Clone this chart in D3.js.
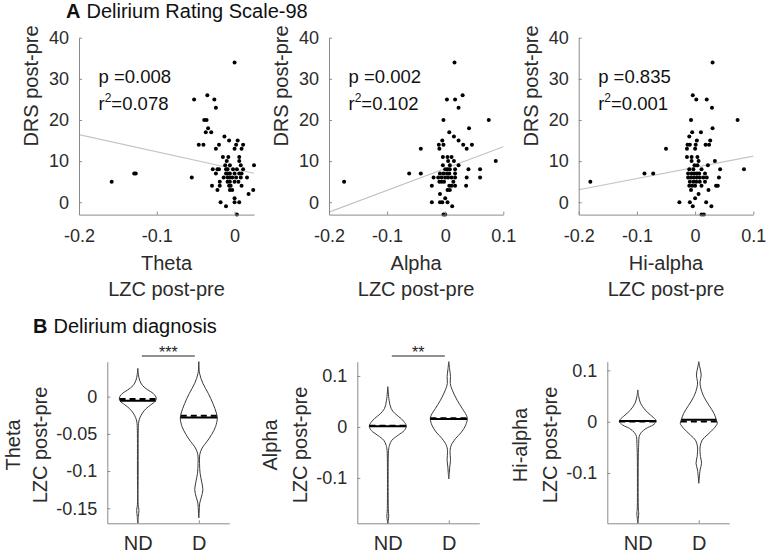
<!DOCTYPE html>
<html><head><meta charset="utf-8">
<script src="https://cdn.jsdelivr.net/npm/d3@7"></script>
<style>html,body{margin:0;padding:0;background:#fff;}</style>
</head><body>
<script>
// ---------------- DATA ----------------
const bands = ["Theta", "Alpha", "Hi-alpha"];
const groups = ["ND", "D"];
const scatterYTicks = [0, 10, 20, 30, 40];
const thetaXTicks = [-0.2, -0.1, 0];
const alphaXTicks = [-0.2, -0.1, 0, 0.1];
const hiXTicks = [-0.2, -0.1, 0, 0.1];
const pValues = ["0.008", "0.002", "0.835"];
const r2Values = ["0.078", "0.102", "0.001"];
const fitSlopes = [-41.6, 53.0, 27.3];
const fitIntercepts = [8.1, 8.2, 8.5];

const thetaPts = [[0.000,34],[-0.052,25],[-0.035,26],[-0.026,25],[-0.024,23],[-0.039,20],[-0.036,20],[-0.034,18],[-0.037,17],[-0.030,17],[-0.013,16],[-0.007,15],[0.004,15],[-0.046,14],[-0.040,14],[-0.024,13],[-0.020,14],[0.000,13],[0.002,14],[0.011,14],[0.009,13],[-0.015,11],[-0.008,11],[0.006,11],[-0.010,10],[0.006,10],[-0.012,9],[-0.006,9],[0.008,9],[-0.028,8],[-0.022,8],[-0.020,8],[-0.011,8],[-0.009,8],[-0.002,8],[0.003,8],[0.011,8],[0.025,9],[-0.024,7],[-0.011,7],[-0.009,7],[-0.006,7],[0.000,7],[0.006,7],[0.009,7],[-0.014,6],[-0.009,6],[-0.006,6],[-0.003,6],[0.002,6],[0.008,6],[0.016,6],[-0.055,6],[-0.019,5],[-0.009,5],[-0.006,5],[0.000,5],[0.005,5],[-0.007,4],[-0.005,4],[0.009,4],[-0.029,4],[-0.022,3],[-0.019,4],[-0.006,3],[-0.003,3],[0.024,3],[0.018,2],[0.000,1],[-0.018,0],[0.000,0],[0.006,0],[-0.011,-1],[0.003,-3],[-0.158,5],[-0.129,7],[-0.127,7]];

const alphaPts = [[0.016,34],[0.003,25],[0.017,25],[0.030,26],[0.023,23],[-0.003,20],[0.075,20],[0.007,17],[0.041,18],[0.015,16],[0.023,15],[0.031,14],[0.046,14],[0.037,13],[-0.005,15],[-0.011,14],[-0.003,14],[-0.010,13],[-0.042,13],[-0.004,11],[0.004,11],[0.011,11],[0.005,10],[0.015,10],[-0.004,9],[0.008,9],[0.023,9],[0.087,10],[0.000,8],[0.004,8],[0.008,8],[0.017,8],[0.040,8],[0.060,8],[-0.062,7],[-0.042,7],[-0.009,7],[-0.003,7],[0.003,7],[0.007,7],[0.017,7],[-0.020,6],[-0.012,6],[-0.006,6],[0.000,6],[0.005,6],[0.011,6],[0.017,6],[0.037,6],[0.060,6],[-0.010,5],[-0.006,5],[-0.002,5],[0.014,5],[0.007,4],[0.011,4],[0.017,4],[-0.023,4],[0.036,4],[0.004,3],[0.008,3],[-0.009,2],[0.000,1],[-0.023,0],[-0.009,0],[-0.005,0],[0.004,0],[0.012,-1],[0.000,-3],[-0.003,-3],[-0.174,5]];

const hiPts = [[0.030,34],[-0.004,26],[0.002,25],[0.020,25],[0.029,23],[-0.007,20],[0.073,20],[0.030,18],[-0.005,17],[0.010,17],[-0.010,16],[0.003,15],[0.026,15],[-0.013,14],[-0.009,14],[0.001,14],[0.018,14],[0.024,14],[-0.050,13],[-0.014,13],[0.000,13],[-0.014,11],[-0.006,11],[0.004,11],[-0.006,10],[0.006,10],[0.034,10],[-0.001,9],[0.004,9],[0.022,9],[-0.010,8],[-0.003,8],[0.011,8],[0.043,8],[0.084,8],[-0.087,7],[-0.072,7],[-0.012,7],[-0.006,7],[-0.001,7],[0.003,7],[0.007,7],[0.017,7],[-0.012,6],[-0.007,6],[-0.002,6],[0.003,6],[0.008,6],[0.014,6],[0.020,6],[0.041,6],[-0.009,5],[-0.003,5],[0.002,5],[0.008,5],[0.017,5],[-0.010,4],[-0.005,4],[0.000,4],[0.011,4],[0.036,4],[0.039,4],[-0.007,3],[0.023,3],[0.006,2],[0.000,1],[-0.027,0],[-0.009,0],[0.019,0],[-0.004,-1],[0.028,-1],[0.011,-3],[0.015,-3],[-0.180,5]];

// violin profiles: [value, relative density]
const thetaND = [[0.038,0],[0.030,0.03],[0.022,0.10],[0.015,0.25],[0.009,0.55],[0.004,0.85],[-0.002,1.0],[-0.006,0.95],[-0.011,0.7],[-0.016,0.45],[-0.022,0.25],[-0.028,0.12],[-0.034,0.05],[-0.045,0.025],[-0.10,0.02],[-0.145,0.02],[-0.153,0.06],[-0.161,0.03],[-0.170,0.01]];
const thetaD = [[0.047,0],[0.0315,0.04],[0.018,0.22],[0.0045,0.51],[-0.009,0.76],[-0.022,0.95],[-0.029,1.0],[-0.040,0.91],[-0.051,0.69],[-0.060,0.45],[-0.069,0.18],[-0.078,0.05],[-0.090,0.04],[-0.103,0.07],[-0.115,0.16],[-0.125,0.22],[-0.135,0.14],[-0.143,0.05],[-0.155,0.02],[-0.163,0]];
const alphaND = [[0.079,0],[0.0525,0.07],[0.036,0.18],[0.026,0.4],[0.016,0.73],[0.0066,0.95],[0.0013,1.0],[-0.0066,0.9],[-0.0164,0.55],[-0.026,0.22],[-0.036,0.09],[-0.046,0.04],[-0.08,0.02],[-0.14,0.02],[-0.165,0.03],[-0.175,0.05],[-0.185,0.02],[-0.19,0]];
const alphaD = [[0.128,0],[0.112,0.05],[0.099,0.09],[0.085,0.08],[0.073,0.18],[0.0525,0.45],[0.036,0.73],[0.023,0.95],[0.0164,1.0],[0.0033,0.91],[-0.0098,0.69],[-0.023,0.36],[-0.036,0.13],[-0.046,0.07],[-0.066,0.09],[-0.079,0.05],[-0.09,0.03],[-0.102,0]];
const hiND = [[0.062,0],[0.049,0.05],[0.036,0.15],[0.0228,0.4],[0.013,0.69],[0.0045,0.95],[0.0006,1.0],[-0.0065,0.82],[-0.013,0.45],[-0.0214,0.18],[-0.029,0.07],[-0.042,0.05],[-0.06,0.03],[-0.1,0.02],[-0.17,0.03],[-0.178,0.05],[-0.188,0.03],[-0.198,0]];
const hiD = [[0.117,0],[0.107,0.05],[0.091,0.13],[0.078,0.07],[0.068,0.09],[0.049,0.27],[0.032,0.55],[0.0163,0.82],[0.0032,0.95],[-0.0032,1.0],[-0.013,0.82],[-0.026,0.45],[-0.036,0.18],[-0.049,0.07],[-0.068,0.09],[-0.081,0.15],[-0.094,0.07],[-0.12,0]];

// mean (solid) and median (dashed) per band, [ND, D]
const violinMeans = [[-0.0054,-0.028],[0.0013,0.0158],[0.0013,0.0038]];
const violinMedians = [[-0.003,-0.0255],[0.0026,0.0171],[0.0006,0.0006]];
const sigLabels = ["***", "**", ""];
const thetaYTicks = [-0.15, -0.1, -0.05, 0];
const alphaYTicks = [-0.1, 0, 0.1];
const hiYTicks = [-0.1, 0, 0.1];

// ---------------- LAYOUT ----------------
const W = 767, H = 554;
const FONT = "'Liberation Sans', Arial, Helvetica, sans-serif";
const AX = "#8a8a8a", TXT = "#2b2b2b";
const svg = d3.select("body").append("svg").attr("width", W).attr("height", H)
  .style("font-family", FONT);
svg.append("rect").attr("width", W).attr("height", H).attr("fill", "#fff");

const fmt = d => String(d);

function styleAxis(g) {
  g.select(".domain").attr("stroke", AX).attr("stroke-width", 1);
  g.selectAll(".tick line").attr("stroke", AX);
  g.selectAll(".tick text").attr("fill", TXT).style("font-size", "18px").style("font-family", FONT);
}

// ---- Panel A ----
const topPanels = [
  {x0: 79, x1: 254, xd: [-0.2, 0.025], xt: thetaXTicks, pts: thetaPts},
  {x0: 329, x1: 503.3, xd: [-0.2, 0.1], xt: alphaXTicks, pts: alphaPts},
  {x0: 578.7, x1: 753.3, xd: [-0.2, 0.1], xt: hiXTicks, pts: hiPts}
];
const yA = d3.scaleLinear().domain([-3, 40]).range([214.6, 37.7]);

topPanels.forEach((p, i) => {
  const x = d3.scaleLinear().domain(p.xd).range([p.x0, p.x1]);
  const g = svg.append("g");
  // fit line
  const fx = p.xd;
  g.append("line")
    .attr("x1", x(fx[0])).attr("y1", yA(fitIntercepts[i] + fitSlopes[i] * fx[0]))
    .attr("x2", x(fx[1])).attr("y2", yA(fitIntercepts[i] + fitSlopes[i] * fx[1]))
    .attr("stroke", "#c4c4c4").attr("stroke-width", 1.2);
  g.selectAll("circle").data(p.pts).join("circle")
    .attr("cx", d => x(d[0])).attr("cy", d => yA(d[1])).attr("r", 2)
    .attr("fill", "#000");
  const gx = g.append("g").attr("transform", `translate(0,${yA.range()[0]})`)
    .call(d3.axisBottom(x).tickValues(p.xt).tickFormat(fmt).tickSizeInner(-3).tickSizeOuter(0).tickPadding(15));
  styleAxis(gx);
  const gy = g.append("g").attr("transform", `translate(${p.x0},0)`)
    .call(d3.axisLeft(yA).tickValues(scatterYTicks).tickFormat(fmt).tickSizeInner(-3).tickSizeOuter(0).tickPadding(10));
  styleAxis(gy);
  const cx = (p.x0 + p.x1) / 2;
  g.append("text").attr("x", cx).attr("y", 269.5).attr("text-anchor", "middle")
    .attr("fill", TXT).style("font-size", "20px").text(bands[i]);
  g.append("text").attr("x", cx).attr("y", 296).attr("text-anchor", "middle")
    .attr("fill", TXT).style("font-size", "20px").text("LZC post-pre");
  g.append("text").attr("transform", `translate(${p.x0 - 41},86) rotate(-90)`)
    .attr("text-anchor", "middle").attr("fill", TXT).style("font-size", "20px").text("DRS post-pre");
  g.append("text").attr("x", p.x0 + 19.5).attr("y", 83.3).attr("fill", "#111")
    .style("font-size", "18.5px").text("p =" + pValues[i]);
  const t = g.append("text").attr("x", p.x0 + 19.5).attr("y", 110).attr("fill", "#111").style("font-size", "18.5px");
  t.append("tspan").text("r");
  t.append("tspan").attr("dy", -8).style("font-size", "12px").text("2");
  t.append("tspan").attr("dy", 8).text("=" + r2Values[i]);
});

// Titles
const tA = svg.append("text").attr("x", 66).attr("y", 18.3).attr("fill", "#111").style("font-size", "20px");
tA.append("tspan").style("font-weight", "bold").text("A");
tA.append("tspan").attr("dx", 6).text("Delirium Rating Scale-98");
const tB = svg.append("text").attr("x", 33).attr("y", 333.3).attr("fill", "#111").style("font-size", "20px");
tB.append("tspan").style("font-weight", "bold").text("B");
tB.append("tspan").attr("dx", 6).text("Delirium diagnosis");

// ---- Panel B ----
const botPanels = [
  {x0: 107.3, yd: [-0.1702, 0.047], yt: thetaYTicks, prof: [thetaND, thetaD], lab1: -87, lab2: -60.6},
  {x0: 357.3, yd: [-0.189, 0.128], yt: alphaYTicks, prof: [alphaND, alphaD], lab1: -80, lab2: -50.6},
  {x0: 607.3, yd: [-0.198, 0.117], yt: hiYTicks, prof: [hiND, hiD], lab1: -80, lab2: -50.6}
];
const wScale = d3.scaleLinear().domain([0, 1]).range([0, 18.5]);

function densAt(prof, v) {
  for (let k = 0; k < prof.length - 1; k++) {
    const a = prof[k], b = prof[k + 1];
    if ((v <= a[0] && v >= b[0])) {
      const t = (a[0] - v) / (a[0] - b[0]);
      return a[1] + t * (b[1] - a[1]);
    }
  }
  return 0;
}

botPanels.forEach((p, i) => {
  const x = d3.scaleLinear().domain([0.5, 2.5]).range([p.x0, p.x0 + 122]);
  const y = d3.scaleLinear().domain(p.yd).range([523.3, 361.7]);
  const g = svg.append("g");
  p.prof.forEach((prof, j) => {
    const cx = x(j + 1);
    const area = d3.area()
      .y(d => y(d[0]))
      .x0(d => cx - wScale(d[1]))
      .x1(d => cx + wScale(d[1]))
      .curve(d3.curveCatmullRom.alpha(0.5));
    g.append("path").datum(prof).attr("d", area)
      .attr("fill", "none").attr("stroke", "#3a3a3a").attr("stroke-width", 1);
    const mv = violinMeans[i][j], md = violinMedians[i][j];
    const wm = wScale(densAt(prof, mv)), wd = wScale(densAt(prof, md));
    g.append("line").attr("x1", cx - wm).attr("x2", cx + wm).attr("y1", y(mv)).attr("y2", y(mv))
      .attr("stroke", "#000").attr("stroke-width", 2);
    g.append("line").attr("x1", cx - wd).attr("x2", cx + wd).attr("y1", y(md)).attr("y2", y(md))
      .attr("stroke", "#000").attr("stroke-width", 2).attr("stroke-dasharray", "6,4");
  });
  const gx = g.append("g").attr("transform", `translate(0,523.3)`)
    .call(d3.axisBottom(x).tickValues([1, 2]).tickFormat(d => groups[d - 1]).tickSizeInner(-3).tickSizeOuter(0).tickPadding(13));
  styleAxis(gx);
  gx.selectAll(".tick text").style("font-size", "20px");
  const gy = g.append("g").attr("transform", `translate(${p.x0},0)`)
    .call(d3.axisLeft(y).tickValues(p.yt).tickFormat(fmt).tickSizeInner(-3).tickSizeOuter(0).tickPadding(10));
  styleAxis(gy);
  g.append("text").attr("transform", `translate(${p.x0 + p.lab1},445) rotate(-90)`)
    .attr("text-anchor", "middle").attr("fill", TXT).style("font-size", "20px").text(bands[i]);
  g.append("text").attr("transform", `translate(${p.x0 + p.lab2},445) rotate(-90)`)
    .attr("text-anchor", "middle").attr("fill", TXT).style("font-size", "20px").text("LZC post-pre");
  if (sigLabels[i]) {
    g.append("line").attr("x1", x(1) + 4).attr("x2", x(2) - 4).attr("y1", 356).attr("y2", 356)
      .attr("stroke", "#222").attr("stroke-width", 1);
    g.append("text").attr("x", (x(1) + x(2)) / 2).attr("y", 358).attr("text-anchor", "middle")
      .attr("fill", "#222").style("font-size", "16px").text(sigLabels[i]);
  }
});
</script>
</body></html>
